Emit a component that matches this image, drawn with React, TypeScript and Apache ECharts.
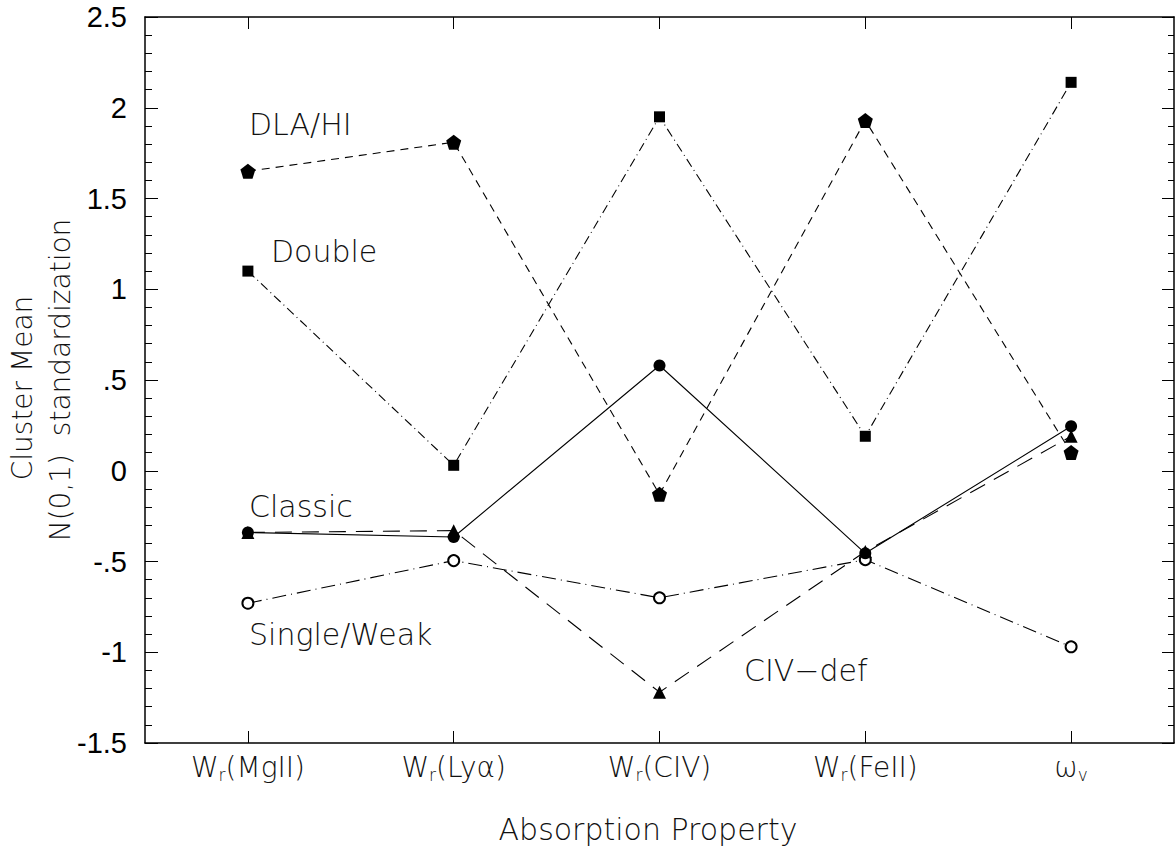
import React, { useEffect, useRef } from "react";
import * as echarts from "echarts";

const categories = ["MgII", "Lyα", "CIV", "FeII", "ω"];
const catPrefix = ["W", "W", "W", "W", "ω"];
const catSub = ["r", "r", "r", "r", "v"];
const catTail = ["(MgII)", "(Lyα)", "(CIV)", "(FeII)", ""];

const dlaHI = [1.65, 1.81, -0.13, 1.93, 0.1];
const double = [1.1, 0.03, 1.95, 0.19, 2.14];
const classic = [-0.34, -0.365, 0.58, -0.455, 0.245];
const civDef = [-0.34, -0.33, -1.22, -0.445, 0.19];
const singleWeak = [-0.73, -0.495, -0.7, -0.49, -0.97];

const yTickLabels: Record<string, string> = {
  "2.5": "2.5", "2": "2", "1.5": "1.5", "1": "1", "0.5": ".5", "0": "0",
  "-0.5": "-.5", "-1": "-1", "-1.5": "-1.5",
};

const annotations = [
  { text: "DLA/HI", x: 249, y: 124 },
  { text: "Double", x: 271, y: 251 },
  { text: "Classic", x: 249, y: 506 },
  { text: "Single/Weak", x: 249, y: 634 },
  { text: "CIV\u2212def", x: 744, y: 670 },
];

const THIN = "'DejaVu Sans', 'Noto Sans', sans-serif";
const W = 200;
const TXT = "#111";
const pentagon = "path://M0,-10 L9.51,-3.09 L5.88,8.09 L-5.88,8.09 L-9.51,-3.09 Z";

export default function App() {
  const ref = useRef<HTMLDivElement>(null);
  useEffect(() => {
    if (!ref.current) return;
    const chart = echarts.init(ref.current, null, { renderer: "svg" });
    const lineBase = { color: "#000", width: 1.1 };
    const grid = { left: 145, top: 17, right: 1, bottom: 105 };
    const option: any = {
      animation: false,
      backgroundColor: "#fff",
      grid,
      xAxis: [
        {
          type: "category",
          data: categories,
          boundaryGap: true,
          axisLine: { onZero: false, lineStyle: { color: "#000", width: 1.5 } },
          axisTick: { show: true, inside: true, alignWithLabel: true, length: 12, lineStyle: { color: "#000", width: 1 } },
          axisLabel: {
            margin: 9,
            color: TXT,
            fontFamily: THIN,
            fontWeight: W,
            formatter: (_v: string, i: number) =>
              `{w|${catPrefix[i]}}{s|${catSub[i]}}{w|${catTail[i]}}`,
            rich: {
              w: { fontSize: 28, fontFamily: THIN, fontWeight: W, color: TXT },
              s: { fontSize: 17, fontFamily: THIN, fontWeight: W, color: TXT, padding: [14, 0, 0, 0] },
            },
          },
          splitLine: { show: false },
        },
        {
          type: "category",
          data: categories,
          position: "top",
          boundaryGap: true,
          axisLine: { onZero: false, lineStyle: { color: "#000", width: 1.5 } },
          axisTick: { show: true, inside: true, alignWithLabel: true, length: 12, lineStyle: { color: "#000", width: 1 } },
          axisLabel: { show: false },
          splitLine: { show: false },
        },
      ],
      yAxis: [
        {
          type: "value",
          min: -1.5,
          max: 2.5,
          interval: 0.5,
          axisLine: { show: true, onZero: false, lineStyle: { color: "#000", width: 1.5 } },
          axisTick: { show: true, inside: true, length: 13, lineStyle: { color: "#000", width: 1 } },
          minorTick: { show: true, splitNumber: 5, length: 7, lineStyle: { color: "#000", width: 1 } },
          axisLabel: {
            margin: 18,
            color: "#000",
            fontSize: 29,
            fontFamily: "'Liberation Sans', Arial, sans-serif",
            formatter: (v: number) => yTickLabels[String(Math.round(v * 10) / 10)] ?? String(v),
          },
          splitLine: { show: false },
        },
        {
          type: "value",
          min: -1.5,
          max: 2.5,
          interval: 0.5,
          position: "right",
          axisLine: { show: true, onZero: false, lineStyle: { color: "#000", width: 1.5 } },
          axisTick: { show: true, inside: true, length: 12, lineStyle: { color: "#000", width: 1 } },
          minorTick: { show: true, splitNumber: 5, length: 6, lineStyle: { color: "#000", width: 1 } },
          axisLabel: { show: false },
          splitLine: { show: false },
        },
      ],
      series: [
        {
          name: "DLA/HI", type: "line", data: dlaHI, symbol: pentagon, symbolSize: 15,
          itemStyle: { color: "#000" }, lineStyle: { ...lineBase, type: [8, 6] }, z: 3,
        },
        {
          name: "Double", type: "line", data: double, symbol: "rect", symbolSize: 11,
          itemStyle: { color: "#000" }, lineStyle: { ...lineBase, type: [9, 4, 1, 4] }, z: 3,
        },
        {
          name: "Classic", type: "line", data: classic, symbol: "circle", symbolSize: 12,
          itemStyle: { color: "#000" }, lineStyle: { ...lineBase, type: "solid" }, z: 4,
        },
        {
          name: "CIV-def", type: "line", data: civDef, symbol: "triangle", symbolSize: 13,
          itemStyle: { color: "#000" }, lineStyle: { ...lineBase, type: [17, 10] }, z: 3,
        },
        {
          name: "Single/Weak", type: "line", data: singleWeak, symbol: "emptyCircle", symbolSize: 11,
          itemStyle: { color: "#000", borderColor: "#000", borderWidth: 1 },
          lineStyle: { ...lineBase, type: [14, 5, 1, 5] }, z: 3,
        },
      ],
      graphic: [
        ...annotations.map((a) => ({
          type: "text",
          x: a.x,
          y: a.y,
          style: { text: a.text, fontSize: 30, fontFamily: THIN, fontWeight: W, fill: TXT, align: "left", verticalAlign: "middle" },
        })),
        {
          type: "text",
          x: 22,
          y: 388,
          rotation: Math.PI / 2,
          style: { text: "Cluster Mean", fontSize: 28, fontFamily: THIN, fontWeight: W, fill: TXT, align: "center", verticalAlign: "middle" },
        },
        {
          type: "text",
          x: 60,
          y: 380,
          rotation: Math.PI / 2,
          style: { text: "N(0,1)  standardization", fontSize: 28, fontFamily: THIN, fontWeight: W, fill: TXT, align: "center", verticalAlign: "middle" },
        },
        {
          type: "text",
          x: 648,
          y: 829,
          style: { text: "Absorption Property", fontSize: 30, fontFamily: THIN, fontWeight: W, fill: TXT, align: "center", verticalAlign: "middle" },
        },
      ],
    };
    chart.setOption(option);
    return () => chart.dispose();
  }, []);
  return (
    <div
      ref={ref}
      style={{ position: "fixed", left: 0, top: 0, width: 1175, height: 848, background: "#fff" }}
    />
  );
}
